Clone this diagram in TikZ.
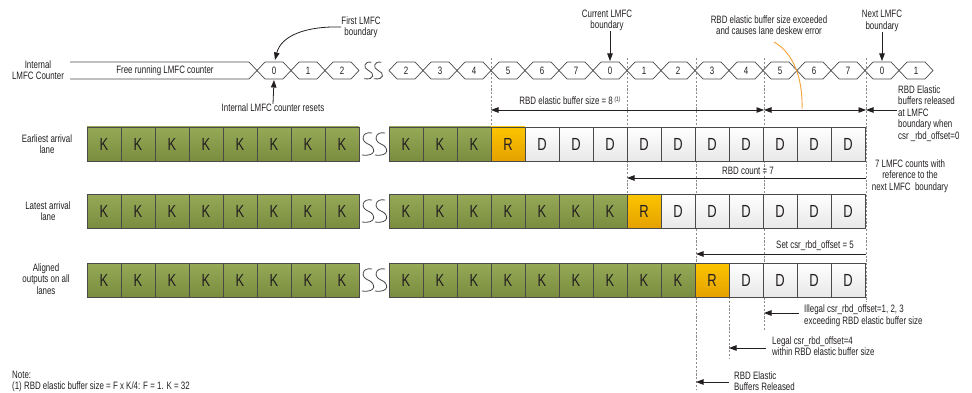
\documentclass[tikz,border=0pt]{standalone}
\usepackage{fontspec}
\setmainfont[FakeStretch=0.74]{Liberation Sans}
\usetikzlibrary{arrows.meta}
\definecolor{kgreenT}{HTML}{95A957}
\definecolor{kgreenB}{HTML}{7A8D3F}
\definecolor{rorT}{HTML}{FBC500}
\definecolor{rorB}{HTML}{E5A100}
\definecolor{dgrayB}{HTML}{E8E8E8}
\definecolor{bord}{HTML}{4A4A4A}
\definecolor{dashc}{HTML}{8C8C8C}
\definecolor{orng}{HTML}{F4A236}
\definecolor{txt}{HTML}{231F20}
\tikzset{
  cellbase/.style={draw=bord, line width=0.8pt, minimum width=34pt, minimum height=34pt, inner sep=0pt, text=txt, font=\fontsize{17.5}{17.5}\selectfont},
  kcell/.style={cellbase, top color=kgreenT, bottom color=kgreenB},
  rcell/.style={cellbase, top color=rorT, bottom color=rorB},
  dcell/.style={cellbase, top color=white, bottom color=dgrayB},
  hexline/.style={draw=bord, line width=0.7pt, fill=white},
  cnttext/.style={inner sep=0pt, text=txt, font=\fontsize{10.7}{11.5}\selectfont},
  lbl/.style={inner sep=0pt, text=txt, font=\fontsize{10.7}{11.5}\selectfont, align=center},
  lbll/.style={inner sep=0pt, text=txt, font=\fontsize{10.7}{11.5}\selectfont, align=left, anchor=west},
  vdash/.style={draw=dashc, line width=0.7pt, dash pattern=on 2.2pt off 1.6pt},
  dimarr/.style={draw=txt, line width=0.8pt, -{Triangle[length=7.5pt,width=5.5pt]}},
  dimdbl/.style={draw=txt, line width=0.8pt, {Triangle[length=7.5pt,width=5.5pt]}-{Triangle[length=7.5pt,width=5.5pt]}},
  squigline/.style={draw=gray!55!black, line width=0.8pt},
  squig/.pic={
    \draw[squigline] (-2,-11) .. controls (-12,-13) and (-14,-3) .. (-6,0) .. controls (2,3) and (3,13) .. (-12,11);
    \draw[squigline] (11,-11) .. controls (1,-13) and (-1,-3) .. (7,0) .. controls (15,3) and (16,13) .. (1,11);
  }
}
\begin{document}
\begin{tikzpicture}[x=1pt,y=-1pt]
\useasboundingbox (0,0) rectangle (972,393);

% dashed guide lines (behind)
\coordinate (d491t) at (491,58);  \coordinate (d491b) at (491,127);
\coordinate (d627t) at (627,58);  \coordinate (d627b) at (627,194);
\coordinate (d696t) at (696,58);  \coordinate (d696b) at (696,390);
\coordinate (d764t) at (764,58);  \coordinate (d764b) at (764,330);
\coordinate (d866t) at (866,58);  \coordinate (d866b) at (866,302);
\coordinate (d729t) at (729,297); \coordinate (d729b) at (729,359);
\draw[vdash] (d491t) -- (d491b);
\draw[vdash] (d627t) -- (d627b);
\draw[vdash] (d696t) -- (d696b);
\draw[vdash] (d764t) -- (d764b);
\draw[vdash] (d866t) -- (d866b);
\draw[vdash] (d729t) -- (d729b);

% LMFC counter row
\node[lbl] (lblC) at (38,70) {Internal\\LMFC Counter};
\draw[hexline] (70,62) -- (249,62) -- (257,70.5) -- (249,79) -- (70,79);
\node[cnttext] (free) at (165,70.5) {Free running LMFC counter};
\foreach \i/\t in {0/0,1/1,2/2} {
  \pgfmathsetmacro\xl{257+34*\i}
  \draw[hexline] (\xl,70.5) -- ++(8,-8.5) -- ++(18,0) -- ++(8,8.5) -- ++(-8,8.5) -- ++(-18,0) -- cycle;
  \node[cnttext] (ca\i) at (\xl+17,70.5) {\t};
}
\pic[scale=0.75] at (373,70.5) {squig};
\foreach \i/\t in {0/2,1/3,2/4,3/5,4/6,5/7,6/0,7/1,8/2,9/3,10/4,11/5,12/6,13/7,14/0,15/1} {
  \pgfmathsetmacro\xl{389+34*\i}
  \draw[hexline] (\xl,70.5) -- ++(8,-8.5) -- ++(18,0) -- ++(8,8.5) -- ++(-8,8.5) -- ++(-18,0) -- cycle;
  \node[cnttext] (cb\i) at (\xl+17,70.5) {\t};
}

% top annotations
\node[lbl] (first) at (361,27) {First LMFC\\boundary};
\coordinate (firstTip) at (275,60);
\draw[dimarr] (first.west) .. controls (305,26) and (281,36) .. (firstTip);
\node[lbl] (resets) at (273,108) {Internal LMFC counter resets};
\coordinate (resetsTip) at (274,80);
\draw[dimarr] (resets.north) -- (resetsTip);
\node[lbl] (current) at (607,20.5) {Current LMFC\\boundary};
\coordinate (currentTip) at (610,61);
\draw[dimarr] (current.south -| currentTip) -- (currentTip);
\node[lbl] (exceeded) at (769,25) {RBD elastic buffer size exceeded\\and causes lane deskew error};
\node[lbl] (next) at (882,21) {Next LMFC\\boundary};
\coordinate (nextTip) at (882,61);
\draw[dimarr] (next.south -| nextTip) -- (nextTip);

% buffer size arrows
\coordinate (a491) at (491,110);
\coordinate (a764) at (764,110);
\coordinate (a866) at (866,110);
\coordinate (a897) at (897,110);
\draw[dimdbl] (a491) -- (a764);
\draw[dimdbl] (a764) -- (a866);
\draw[dimarr] (a897) -- (a866);
\node[lbl] (size8) at (570,101) {RBD elastic buffer size = 8\,\raisebox{0.55ex}{\fontsize{6.5}{7}\selectfont\itshape (1)}};
\node[lbll] (rel0) at (898,113.5) {RBD Elastic\\buffers released\\at LMFC\\boundary when\\csr \_rbd\_offset=0};
\coordinate (orgA) at (774,42);
\coordinate (orgB) at (802,109);
\draw[orng, line width=0.9pt] (orgA) .. controls (792,52) and (803,76) .. (orgB);

% Earliest arrival lane
\node[lbl] (lblE) at (47,144) {Earliest arrival\\lane};
\foreach \i in {0,...,7} \node[kcell] (ea\i) at ({104+34*\i},144) {K};
\pic at (374,144) {squig};
\foreach \i in {0,...,2} \node[kcell] (eb\i) at ({406+34*\i},144) {K};
\node[rcell] (eb3) at (508,144) {R};
\foreach \i in {4,...,13} \node[dcell] (eb\i) at ({406+34*\i},144) {D};

% RBD count
\coordinate (c866) at (866,178);
\coordinate (c627) at (627,178);
\draw[dimarr] (c866) -- (c627);
\node[lbl] (count7) at (748,171) {RBD count = 7};
\node[lbl] (counts7) at (910,176) {7 LMFC counts with\\reference to the\\next LMFC\ \ boundary};

% Latest arrival lane
\node[lbl] (lblL) at (48,211) {Latest arrival\\lane};
\foreach \i in {0,...,7} \node[kcell] (la\i) at ({104+34*\i},211) {K};
\pic at (374,211) {squig};
\foreach \i in {0,...,6} \node[kcell] (lb\i) at ({406+34*\i},211) {K};
\node[rcell] (lb7) at (644,211) {R};
\foreach \i in {8,...,13} \node[dcell] (lb\i) at ({406+34*\i},211) {D};

% set offset
\coordinate (s866) at (866,254);
\coordinate (s696) at (696,254);
\draw[dimarr] (s866) -- (s696);
\node[lbl] (set5) at (815,246) {Set csr\_rbd\_offset = 5};

% Aligned outputs
\node[lbl] (lblA) at (46,279) {Aligned\\outputs on all\\lanes};
\foreach \i in {0,...,7} \node[kcell] (aa\i) at ({104+34*\i},280) {K};
\pic at (374,280) {squig};
\foreach \i in {0,...,8} \node[kcell] (ab\i) at ({406+34*\i},280) {K};
\node[rcell] (ab9) at (712,280) {R};
\foreach \i in {10,...,13} \node[dcell] (ab\i) at ({406+34*\i},280) {D};

% lower annotations
\node[lbll] (illegal) at (804,315.5) {Illegal csr\_rbd\_offset=1, 2, 3\\exceeding RBD elastic buffer size};
\coordinate (il764) at (764,313);
\draw[dimarr] (illegal.west |- il764) ++(-5,0) -- (il764);
\node[lbll] (legal) at (772,346) {Legal csr\_rbd\_offset=4\\within RBD elastic buffer size};
\coordinate (lg729) at (729,348);
\draw[dimarr] (legal.west |- lg729) ++(-6,0) -- (lg729);
\node[lbll] (relB) at (734,381) {RBD Elastic\\Buffers Released};
\coordinate (rb696) at (696,382);
\draw[dimarr] (relB.west |- rb696) ++(-5,0) -- (rb696);

% note
\node[lbll] (note) at (12,375) {Note:};
\node[lbll] (note1) at (12,387) {(1) RBD elastic buffer size = F x K/4: F = 1. K = 32};
\end{tikzpicture}
\end{document}
